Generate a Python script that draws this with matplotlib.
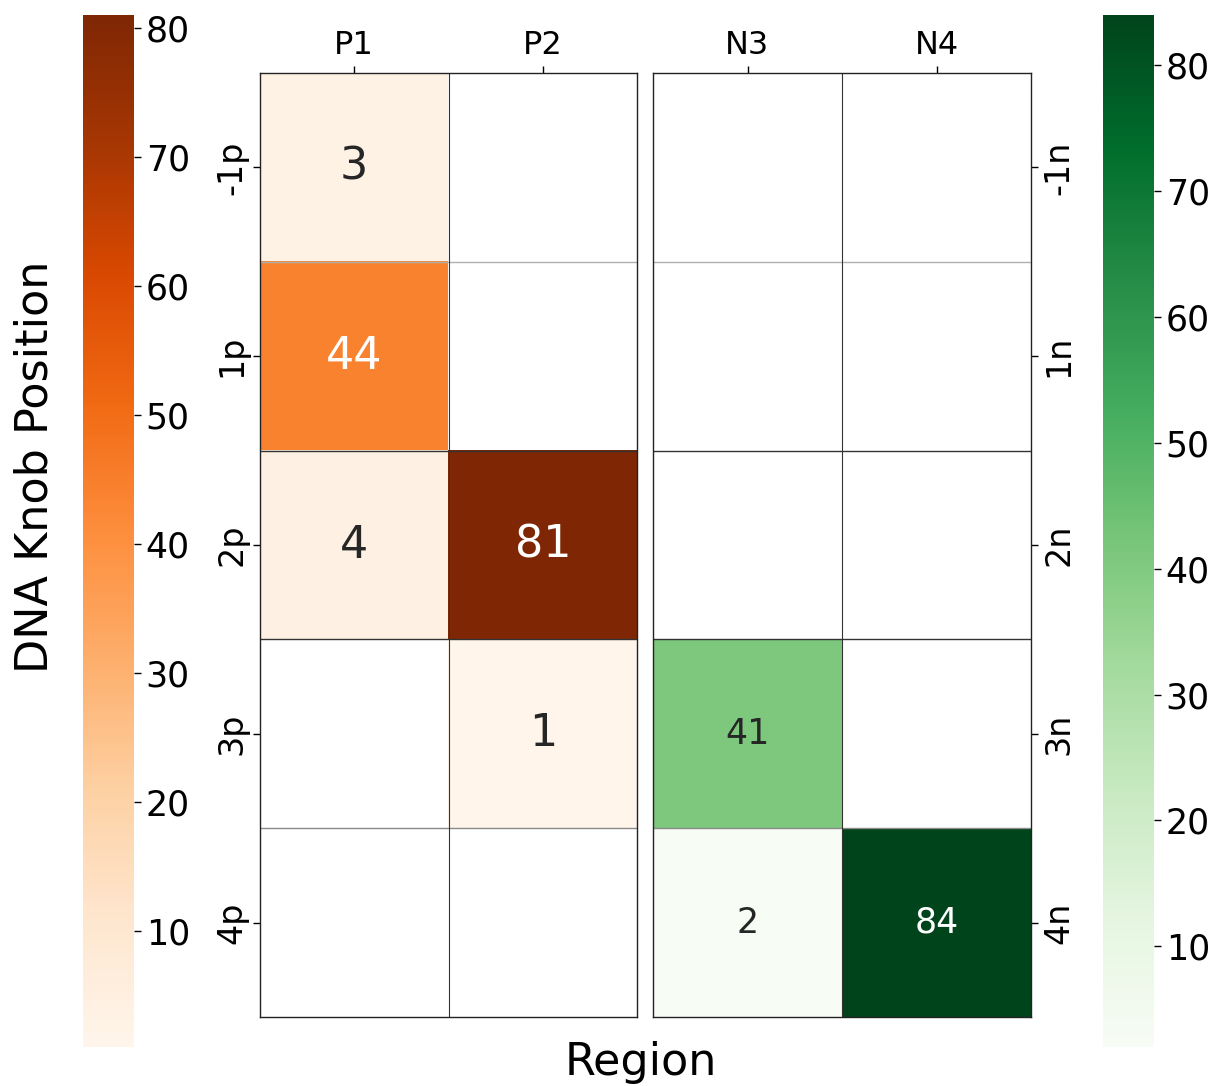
import numpy as np
import matplotlib
matplotlib.use("Agg")
import matplotlib.pyplot as plt
import matplotlib.colors as mcolors

# data
p_cols = ["P1", "P2"]
n_cols = ["N3", "N4"]
p_rows = ["-1p", "1p", "2p", "3p", "4p"]
n_rows = ["-1n", "1n", "2n", "3n", "4n"]
p_counts = [[3, 0], [44, 0], [4, 81], [0, 1], [0, 0]]
n_counts = [[0, 0], [0, 0], [0, 0], [41, 0], [2, 84]]
cbar_ticks = [10, 20, 30, 40, 50, 60, 70, 80]

W, H = 1214, 1086
fig = plt.figure(figsize=(W / 100, H / 100), dpi=100)


def box(x0, y0, x1, y1):
    # pixel box -> figure fraction rect
    return [x0 / W, 1 - y1 / H, (x1 - x0) / W, (y1 - y0) / H]


def text_color(rgba):
    # same rule seaborn uses for annotations
    r, g, b = [c / 12.92 if c <= 0.03928 else ((c + 0.055) / 1.055) ** 2.4 for c in rgba[:3]]
    lum = 0.2126 * r + 0.7152 * g + 0.0722 * b
    return "#262626" if lum > 0.408 else "white"


def draw_panel(ax, data, cmap_name, xlabels, ylabels, fsize, right=False):
    data = np.array(data, dtype=float)
    masked = np.ma.masked_where(data == 0, data)
    cmap = plt.get_cmap(cmap_name).copy()
    cmap.set_bad("white")
    norm = mcolors.Normalize(vmin=masked.min(), vmax=masked.max())
    im = ax.imshow(masked, cmap=cmap, norm=norm, aspect="auto", interpolation="nearest")
    nr, nc = data.shape
    for i in range(nr):
        for j in range(nc):
            if data[i, j] > 0:
                ax.text(j, i, f"{int(data[i, j])}", ha="center", va="center",
                        fontsize=fsize, color=text_color(cmap(norm(data[i, j]))))
    # cell borders
    hcol = {1: "#b0b0b0", 4: "#8a8a8a"}
    for k in range(1, nr):
        ax.axhline(k - 0.5, color=hcol.get(k, "#333333"), lw=1)
    for k in range(1, nc):
        ax.axvline(k - 0.5, color="#333333", lw=0.8)
    ax.set_xticks(range(nc))
    ax.set_xticklabels(xlabels, fontsize=23)
    ax.xaxis.tick_top()
    ax.set_yticks(range(nr))
    ax.set_yticklabels(ylabels, fontsize=24, rotation=90, va="center")
    if right:
        ax.yaxis.tick_right()
    ax.tick_params(length=5, width=1)
    for s in ax.spines.values():
        s.set_linewidth(1)
        s.set_color("#222222")
    return im


ax_p = fig.add_axes(box(260, 73, 637, 1017))
ax_n = fig.add_axes(box(653, 73, 1031, 1017))
cax_p = fig.add_axes(box(83, 15, 134, 1047))
cax_n = fig.add_axes(box(1103, 15, 1154, 1047))

im_p = draw_panel(ax_p, p_counts, "Oranges", p_cols, p_rows, 32)
im_n = draw_panel(ax_n, n_counts, "Greens", n_cols, n_rows, 25, right=True)

for im, cax in [(im_p, cax_p), (im_n, cax_n)]:
    cb = fig.colorbar(im, cax=cax, ticks=cbar_ticks)
    cb.outline.set_visible(False)
    cb.ax.tick_params(labelsize=25, length=5, width=1)

fig.text(35 / W, 1 - 467 / H, "DNA Knob Position", rotation=90,
         ha="center", va="center", fontsize=32)
fig.text(641 / W, 1 - 1063 / H, "Region", ha="center", va="center", fontsize=32)

fig.savefig("out.png", dpi=100)
